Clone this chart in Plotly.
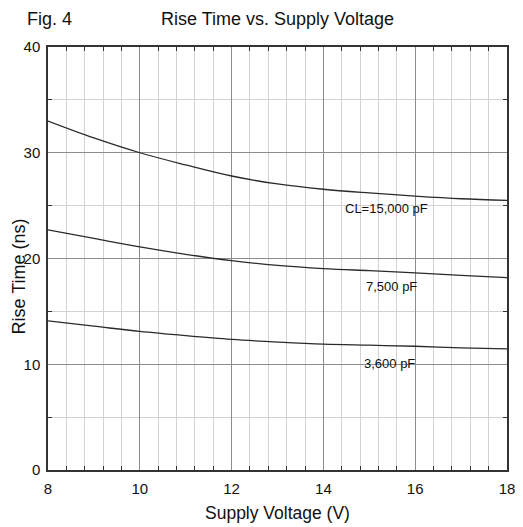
import plotly.graph_objects as go

voltage = [8, 9, 10, 11, 12, 13, 14, 15, 16, 17, 18]
rise_15000 = [33.0, 31.4, 30.0, 28.85, 27.8, 27.05, 26.55, 26.2, 25.9, 25.65, 25.5]
rise_7500 = [22.7, 21.9, 21.1, 20.4, 19.8, 19.35, 19.05, 18.85, 18.65, 18.4, 18.2]
rise_3600 = [14.1, 13.6, 13.1, 12.7, 12.35, 12.1, 11.9, 11.8, 11.7, 11.55, 11.45]

curve_labels = ["CL=15,000 pF", "7,500 pF", "3,600 pF"]
label_x = [15.37, 15.48, 15.44]
label_y = [24.7, 17.36, 10.05]

FONT = "Liberation Sans, Arial, sans-serif"

fig = go.Figure()
for ys in (rise_15000, rise_7500, rise_3600):
    fig.add_trace(go.Scatter(x=voltage, y=ys, mode="lines", line=dict(color="#2a2a2a", width=1.3, shape="spline"),
                             showlegend=False, hoverinfo="skip"))

annotations = []
for t, x, y in zip(curve_labels, label_x, label_y):
    annotations.append(dict(text=t, x=x, y=y, xref="x", yref="y", showarrow=False,
                            font=dict(size=13, color="#111", family=FONT)))
annotations += [
    dict(text="Fig. 4", x=-0.05, y=1.066, xref="paper", yref="paper", xanchor="left", yanchor="middle",
         showarrow=False, font=dict(size=18, color="#111", family=FONT)),
    dict(text="Rise Time vs. Supply Voltage", x=0.499, y=1.066, xref="paper", yref="paper", xanchor="center",
         yanchor="middle", showarrow=False, font=dict(size=18, color="#111", family=FONT)),
    dict(text="Supply Voltage (V)", x=0.499, y=-0.101, xref="paper", yref="paper", xanchor="center",
         yanchor="middle", showarrow=False, font=dict(size=17.5, color="#111", family=FONT)),
    dict(text="Rise Time (ns)", x=-0.0636, y=0.457, xref="paper", yref="paper", xanchor="center",
         yanchor="middle", textangle=-90, showarrow=False, font=dict(size=18, color="#111", family=FONT)),
]

fig.update_layout(
    width=523, height=527,
    margin=dict(l=48, r=8, t=47, b=57),
    paper_bgcolor="white", plot_bgcolor="white",
    font=dict(family=FONT, size=15, color="#111"),
    annotations=annotations,
)
fig.update_xaxes(range=[8, 18], dtick=2, tick0=8, showgrid=True, gridcolor="#8c8c8c", gridwidth=1.2,
                 showline=True, linecolor="#333", linewidth=1.5, mirror="ticks",
                 ticks="", zeroline=False, ticklabelstandoff=4,
                 tickfont=dict(size=15, family=FONT, color="#111"),
                 minor=dict(dtick=0.4, tick0=8, showgrid=True, gridcolor="#d2d2d2", gridwidth=1.2,
                            ticks="inside", ticklen=4, tickcolor="#333", tickwidth=1.2))
fig.update_yaxes(range=[0, 40], dtick=10, tick0=0, showgrid=True, gridcolor="#8c8c8c", gridwidth=1.2,
                 showline=True, linecolor="#333", linewidth=1.5, mirror="ticks",
                 ticks="", zeroline=False, ticklabelstandoff=3,
                 tickfont=dict(size=15, family=FONT, color="#111"),
                 minor=dict(dtick=5, tick0=0, showgrid=True, gridcolor="#d2d2d2", gridwidth=1.2,
                            ticks="inside", ticklen=4, tickcolor="#333", tickwidth=1.2))

fig.write_html("out.html", config={"displayModeBar": False},
               post_script="document.body.style.margin='0';document.body.style.padding='0';")
